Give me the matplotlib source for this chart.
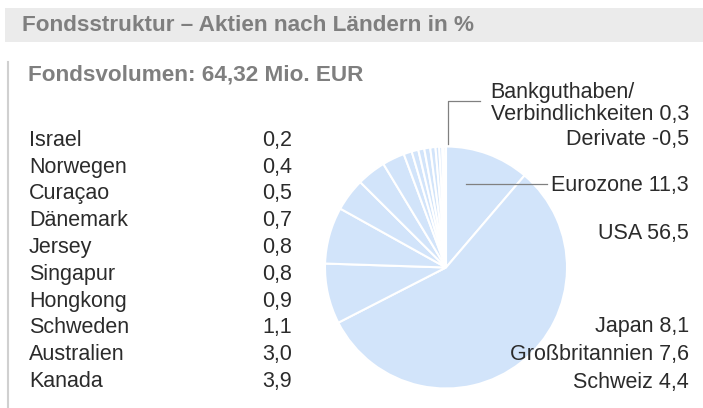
import matplotlib.pyplot as plt
from matplotlib.lines import Line2D

plt.rcParams['font.family'] = ['Liberation Sans', 'DejaVu Sans']

title = 'Fondsstruktur – Aktien nach Ländern in %'
volume = 'Fondsvolumen: 64,32 Mio. EUR'

# linke Liste (kleine Positionen)
listNames = ['Israel', 'Norwegen', 'Curaçao', 'Dänemark', 'Jersey', 'Singapur',
             'Hongkong', 'Schweden', 'Australien', 'Kanada']
listValues = [0.2, 0.4, 0.5, 0.7, 0.8, 0.8, 0.9, 1.1, 3.0, 3.9]

# große Positionen rechts
bigNames = ['Eurozone', 'USA', 'Japan', 'Großbritannien', 'Schweiz']
bigValues = [11.3, 56.5, 8.1, 7.6, 4.4]

cashName = 'Bankguthaben/\nVerbindlichkeiten'
cashValue = 0.3
derivName = 'Derivate'
derivValue = -0.5

def fmt(v):
    return ('%.1f' % v).replace('.', ',')

W, H = 703, 408
fig = plt.figure(figsize=(W/100, H/100), dpi=100)
bg = fig.add_axes([0, 0, 1, 1])
bg.set_xlim(0, W)
bg.set_ylim(H, 0)
bg.axis('off')
bg.set_zorder(3)

grey = '#7f7f7f'
dark = '#2b2b2b'
fs = 15.5

# Kopfzeile
bg.add_patch(plt.Rectangle((5, 8), W - 5, 34, color='#ebebeb', lw=0))
bg.text(22, 31, title, fontsize=16.2, fontweight='bold', color=grey, va='baseline')
bg.add_line(Line2D([7.5, 7.5], [62, H], color='#d0d0d0', lw=1.5))
bg.text(28, 80, volume, fontsize=16.2, fontweight='bold', color=grey, va='baseline')

# Liste
rowY = [146 + i * 26.75 for i in range(len(listNames))]
for n, v, y in zip(listNames, listValues, rowY):
    bg.text(29, y, n, fontsize=fs, color=dark, va='baseline')
    bg.text(292, y, fmt(v), fontsize=fs, color=dark, va='baseline', ha='right')

# Pie: Reihenfolge im Uhrzeigersinn ab 12 Uhr
pieValues = bigValues + listValues[::-1] + [cashValue]
cx, cy, r = 446, 267.5, 121
pax = fig.add_axes([(cx - r)/W, (H - cy - r)/H, 2*r/W, 2*r/H])
pax.pie(pieValues, startangle=90, counterclock=False, radius=1,
        colors=['#d2e4fa'] * len(pieValues),
        wedgeprops=dict(edgecolor='white', linewidth=1.5))
pax.set_xlim(-1, 1)
pax.set_ylim(-1, 1)
pax.axis('off')

# rechte Beschriftungen
rx = 689
bg.text(rx, 120, cashName + ' ' + fmt(cashValue), fontsize=fs, color=dark,
        va='baseline', ha='right', multialignment='left', linespacing=1.05)
bg.text(rx, 145, derivName + ' ' + fmt(derivValue), fontsize=fs, color=dark, va='baseline', ha='right')
bigY = [191, 239, 332, 360, 388]
for n, v, y in zip(bigNames, bigValues, bigY):
    bg.text(rx, y, n + ' ' + fmt(v), fontsize=fs, color=dark, va='baseline', ha='right')

# Führungslinien
bg.add_line(Line2D([448, 448, 480], [144, 101, 101], color='#808080', lw=0.9))
bg.add_line(Line2D([466, 547], [184, 184], color='#808080', lw=0.9))

fig.savefig('out.png', dpi=100)
